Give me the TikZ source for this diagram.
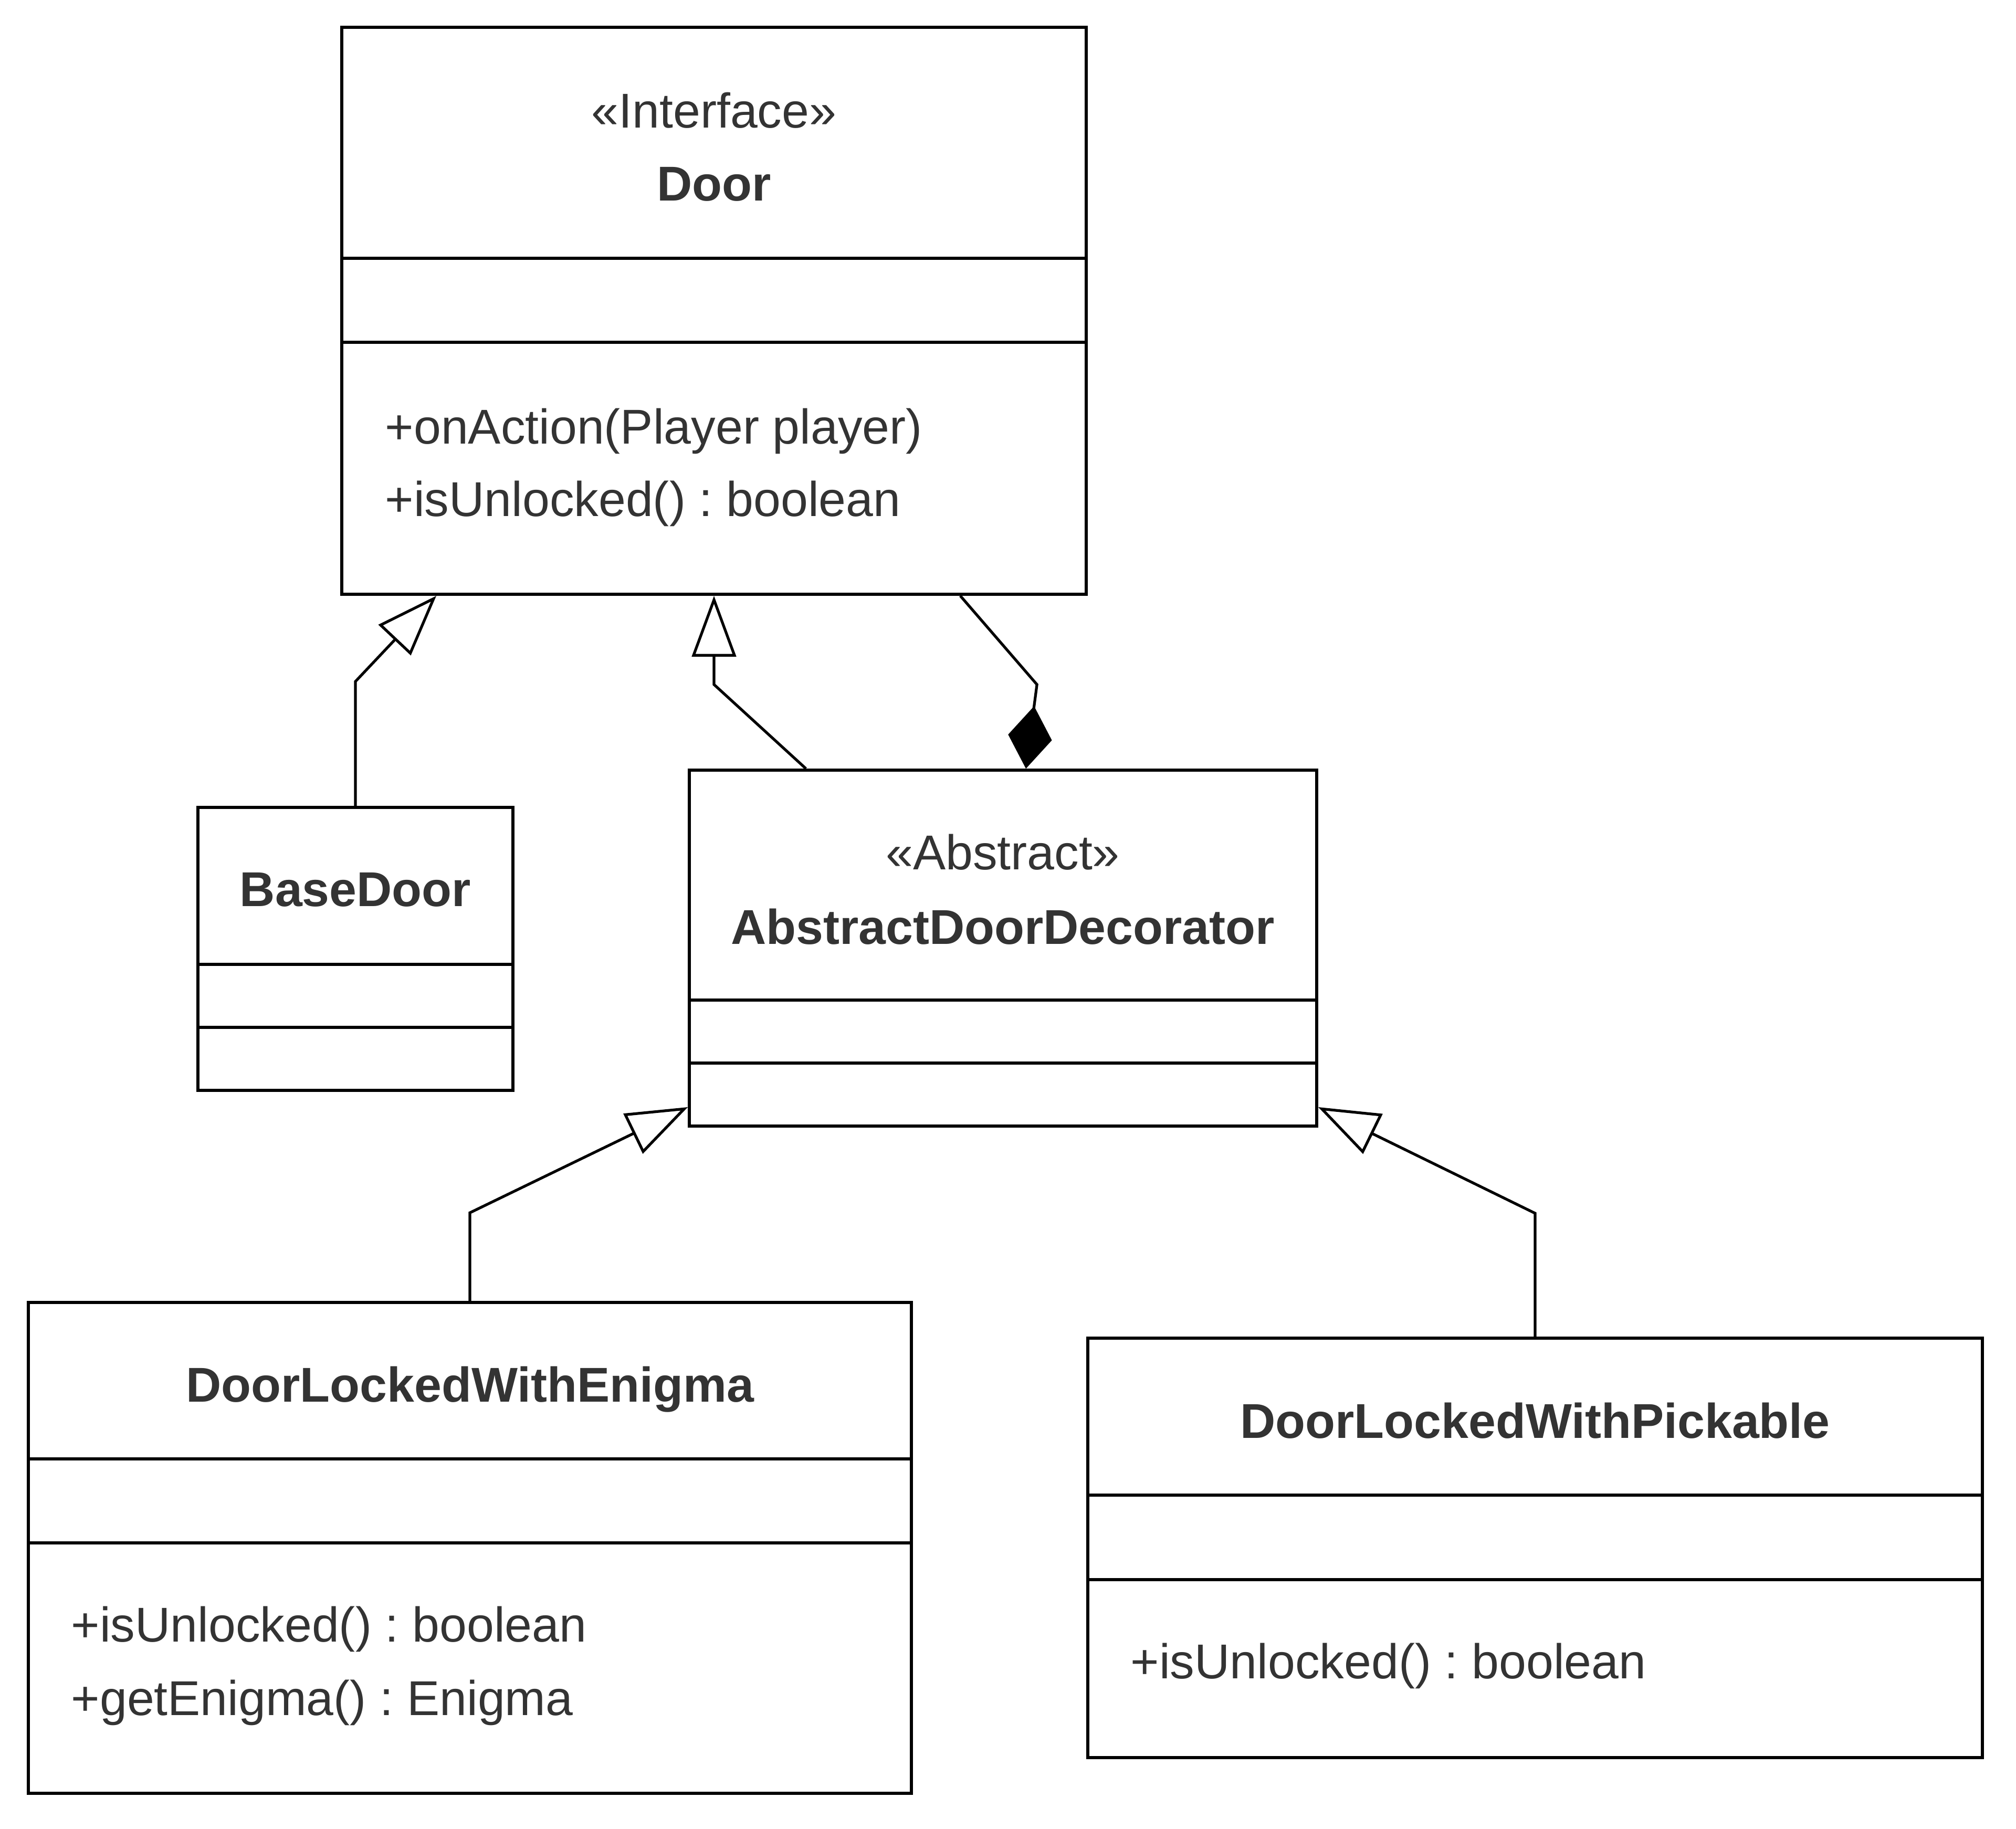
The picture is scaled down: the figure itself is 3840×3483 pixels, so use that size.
\documentclass[tikz,border=0pt]{standalone}
\usepackage{fontspec}
\setmainfont{Liberation Sans}
\usetikzlibrary{arrows.meta,calc,fit}
\definecolor{txt}{HTML}{333333}
\frenchspacing
\begin{document}
\begin{tikzpicture}[x=0.25pt,y=-0.25pt,
  cls/.style={draw, line width=1.45pt, inner sep=0pt},
  divider/.style={line width=1.45pt},
  lbl/.style={text=txt, font=\fontsize{23.3}{28}\selectfont, inner sep=0pt, anchor=base},
  ttl/.style={text=txt, font=\fontsize{23.3}{28}\selectfont\bfseries, inner sep=0pt, anchor=base},
  mth/.style={lbl, anchor=base west},
  gen/.style={draw, line width=1.3pt, line join=miter, -{Triangle[open, length=29pt, width=21pt]}},
  comp/.style={draw, line width=1.3pt, line join=miter, -{Diamond[length=30pt, width=21pt]}}]
\useasboundingbox (0,0) rectangle (3840,3483);

% classes
\node[cls, fit={(651,52) (2069,1132)}] (door) {};
\node[cls, fit={(377,1538) (977,2077)}] (basedoor) {};
\node[cls, fit={(1313,1467) (2508,2145)}] (dec) {};
\node[cls, fit={(54,2481) (1736,3416)}] (enigma) {};
\node[cls, fit={(2072,2549) (3776,3348)}] (pick) {};

% compartments
\draw[divider] (651,492) -- (2069,492);
\draw[divider] (651,652) -- (2069,652);
\draw[divider] (377,1837) -- (977,1837);
\draw[divider] (377,1957) -- (977,1957);
\draw[divider] (1313,1905) -- (2508,1905);
\draw[divider] (1313,2025) -- (2508,2025);
\draw[divider] (54,2779) -- (1736,2779);
\draw[divider] (54,2939) -- (1736,2939);
\draw[divider] (2072,2848) -- (3776,2848);
\draw[divider] (2072,3009) -- (3776,3009);

% texts
\node[lbl] (doorst) at (1360,243) {«Interface»};
\node[ttl] (doorname) at (1360,382) {Door};
\node[mth] (doorm1) at (733,845) {+onAction(Player player)};
\node[mth] (doorm2) at (733,983) {+isUnlocked() : boolean};
\node[ttl] (basename) at (677,1726) {BaseDoor};
\node[lbl] (decst) at (1910,1656) {«Abstract»};
\node[ttl] (decname) at (1910,1798) {AbstractDoorDecorator};
\node[ttl] (enigmaname) at (895,2670) {DoorLockedWithEnigma};
\node[mth] (enigmam1) at (135,3127) {+isUnlocked() : boolean};
\node[mth] (enigmam2) at (135,3267) {+getEnigma() : Enigma};
\node[ttl] (pickname) at (2924,2739) {DoorLockedWithPickable};
\node[mth] (pickm1) at (2153,3197) {+isUnlocked() : boolean};

% connectors
\draw[gen] (basedoor.north) -- ++(0,-237) -- ($(door.south west)+(183,0)$);
\draw[gen] ($(dec.north west)+(225,0)$) -- ($(door.south)+(0,169)$) -- (door.south);
\draw[comp] ($(door.south west)+(1181,0)$) -- ++(146,169) -- ($(dec.north west)+(644,0)$);
\draw[gen] (enigma.north) -- ++(0,-168) -- ($(dec.south west)+(0,-39)$);
\draw[gen] (pick.north) -- ++(0,-235) -- ($(dec.south east)+(0,-39)$);
\end{tikzpicture}
\end{document}
